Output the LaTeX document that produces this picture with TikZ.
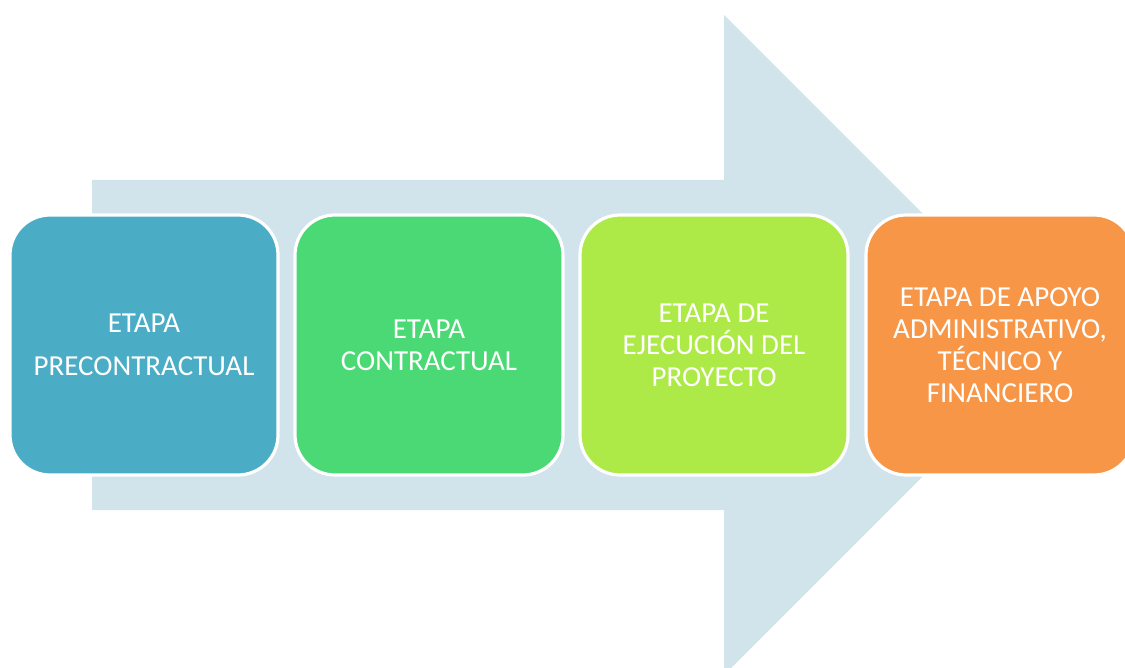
\documentclass[tikz,border=0pt]{standalone}
\usepackage{fontspec}
\setsansfont{Carlito}
\usetikzlibrary{positioning}
\definecolor{flecha}{HTML}{D1E3EB}
\definecolor{pre}{HTML}{4BACC6}
\definecolor{con}{HTML}{4AD974}
\definecolor{eje}{HTML}{ADEA48}
\definecolor{apo}{HTML}{F79646}

\begin{document}
\begin{tikzpicture}[x=0.5pt,y=-0.5pt,
  etapa/.style={draw=white,line width=1.6pt,rounded corners=20pt,
    minimum width=134pt,minimum height=130pt,align=center,text=white,
    font=\sffamily\fontsize{14.5}{16}\selectfont}]
  \useasboundingbox (0,0) rectangle (1125,668);
  % big arrow behind the stages
  \fill[flecha] (92,180) -- (724,180) -- (724,15) -- (1054,345)
    -- (724,675) -- (724,510) -- (92,510) -- cycle;
  \foreach \i/\xx/\col/\txt in {1/144/pre/{ETAPA\\[5.5pt]PRECONTRACTUAL},
      2/429/con/{ETAPA\\CONTRACTUAL},
      3/714/eje/{ETAPA DE\\EJECUCIÓN DEL\\PROYECTO},
      4/1000/apo/{ETAPA DE APOYO\\ADMINISTRATIVO,\\TÉCNICO Y\\FINANCIERO}}
    \node[etapa,fill=\col] (etapa\i) at (\xx,345) {\txt};
\end{tikzpicture}
\end{document}
